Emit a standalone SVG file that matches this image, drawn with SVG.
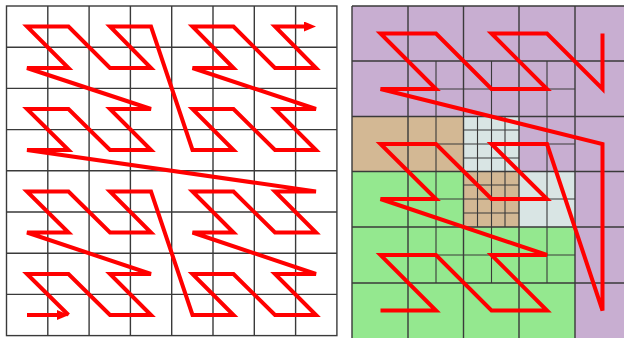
<svg xmlns="http://www.w3.org/2000/svg" width="624" height="338" viewBox="0 0 624 338">
<style>
.grid{fill:none;stroke:#3a3a3a;stroke-width:1.4}
.fine{fill:none;stroke:#3a3a3a;stroke-width:1.1}
.curve{fill:none;stroke:#ff0000;stroke-width:4;stroke-linejoin:miter;stroke-miterlimit:4}
.purple{fill:#c8aed1}
.tan{fill:#d3b894}
.pale{fill:#d9e5e4}
.green{fill:#94e88f}
</style>
<defs>
<marker id="arr" markerUnits="userSpaceOnUse" markerWidth="12" markerHeight="10" refX="6" refY="5" orient="auto">
<path d="M0,0 L12,5 L0,10 z" fill="#ff0000"/>
</marker>
</defs>
<rect x="0" y="0" width="624" height="338" fill="#ffffff"/>

<g id="left-panel">
<rect x="6.5" y="6" width="330.4" height="329.6" fill="#ffffff" class="grid"/>
<path class="grid" d="M47.8,6V335.6M89.1,6V335.6M130.4,6V335.6M171.7,6V335.6M213,6V335.6M254.3,6V335.6M295.6,6V335.6M6.5,47.2H336.9M6.5,88.4H336.9M6.5,129.6H336.9M6.5,170.8H336.9M6.5,212H336.9M6.5,253.2H336.9M6.5,294.4H336.9"/>
</g>

<g id="right-panel">
<rect class="purple" x="352" y="6" width="272" height="332"/>
<rect class="tan" x="352" y="116.5" width="111.5" height="55"/>
<rect class="pale" x="463.5" y="116.5" width="55.5" height="55"/>
<rect class="tan" x="463.5" y="171.5" width="55.5" height="55.5"/>
<rect class="pale" x="519" y="171.5" width="56" height="55.5"/>
<rect class="green" x="352" y="171.5" width="111.5" height="166.5"/>
<rect class="green" x="463.5" y="227" width="111.5" height="111"/>
<path class="grid" d="M352,6V338M408,6V338M463.5,6V338M519,6V338M575,6V338M352,6H624M352,61H624M352,116.5H624M352,171.5H624M352,227H624M352,283H624"/>
<path class="fine" d="M436,61V283M491.5,61V283M547,61V283M408,89H575M408,144H575M408,199H575M408,255H575M477.5,116.5V227M505,116.5V227M463.5,130H519M463.5,158H519M463.5,185H519M463.5,213H519"/>
</g>

<g id="connectors">
<polyline id="left-start" class="curve" points="27,315 63,315" marker-end="url(#arr)"/>
<polyline id="left-curve" class="curve" marker-end="url(#arr)" points="68.5,315 27,274 68.5,274 110,315 151,315 110,274 151,274 27,232.5 68.5,232.5 27,191.5 68.5,191.5 110,232.5 151,232.5 110,191.5 151,191.5 192.5,315 233.5,315 192.5,274 233.5,274 275,315 316,315 275,274 316,274 192.5,232.5 233.5,232.5 192.5,191.5 233.5,191.5 275,232.5 316,232.5 275,191.5 316,191.5 27,150 68.5,150 27,109 68.5,109 110,150 151,150 110,109 151,109 27,68 68.5,68 27,26.5 68.5,26.5 110,68 151,68 110,26.5 151,26.5 192.5,150 233.5,150 192.5,109 233.5,109 275,150 316,150 275,109 316,109 192.5,68 233.5,68 192.5,26.5 233.5,26.5 275,68 316,68 275,26.5 310,26.5"/>
<polyline id="right-curve" class="curve" points="380.5,310.5 436,310.5 380.5,255 436,255 491.5,310.5 547,310.5 491.5,255 547,255 380.5,199 436,199 380.5,144 436,144 491.5,199 547,199 491.5,144 547,144 602.5,310.5 602.5,144 380.5,89 436,89 380.5,33.5 436,33.5 491.5,89 547,89 491.5,33.5 547,33.5 602.5,89 602.5,33.5"/>
</g>
</svg>
